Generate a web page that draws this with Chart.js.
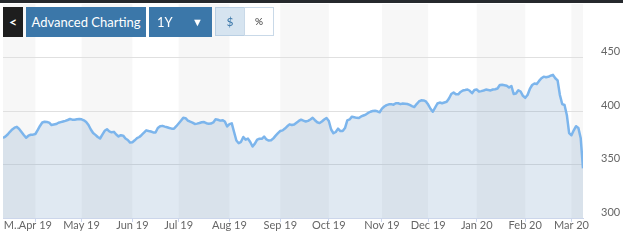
<!DOCTYPE html>
<html>
<head>
<meta charset="utf-8">
<script src="https://cdn.jsdelivr.net/npm/chart.js@4/dist/chart.umd.min.js"></script>
<style>
  html, body { margin: 0; padding: 0; background: #fff; }
  #wrap { position: relative; width: 631px; height: 246px; overflow: hidden; font-family: Lato, 'Open Sans', sans-serif; }
  #topbar { position: absolute; left: 0; top: 0; width: 623px; height: 3px; background: #26292d; }
  .btn { position: absolute; top: 7px; height: 30px; line-height: 30px; box-sizing: border-box; color: #fff; font-size: 13px; text-align: center; }
  #back { left: 3px; width: 20px; background: #1e1e1e; font-weight: bold; font-size: 14px; }
  #adv { left: 26px; width: 120px; background: #3b77a9; }
  #range { left: 149px; width: 63px; background: #3b77a9; text-align: left; }
  #range .lbl { position: absolute; left: 8px; }
  #range .arr { position: absolute; left: 43px; font-size: 11px; }
  #usd { left: 215px; width: 30px; height: 29px; line-height: 27px; background: #d6e4f0; border: 1px solid #b9cfe3; color: #3b77a9; font-size: 12px; }
  #pct { left: 244px; width: 30px; height: 29px; line-height: 27px; background: #fff; border: 1px solid #c9d9e8; color: #333; font-size: 10px; }
</style>
</head>
<body>
<div id="wrap">
  <canvas id="chart" width="631" height="246"></canvas>
  <div id="topbar"></div>
  <div class="btn" id="back">&lt;</div>
  <div class="btn" id="adv">Advanced Charting</div>
  <div class="btn" id="range"><span class="lbl">1Y</span><span class="arr">&#9660;</span></div>
  <div class="btn" id="usd">$</div>
  <div class="btn" id="pct">%</div>
</div>
<script>
// daily closes, Mar 2019 -> Mar 2020
const closes = [
  374.8, 376.0, 378.0, 380.6, 382.8, 384.4, 385.2, 383.2, 380.4, 377.6,
  375.0, 376.9, 377.8, 377.9, 378.5, 382.2, 386.0, 389.2, 389.9, 389.7,
  389.1, 386.9, 387.4, 387.8, 389.0, 389.6, 390.2, 390.8, 391.6, 392.5,
  391.9, 391.8, 392.3, 392.5, 392.2, 391.3, 389.7, 386.9, 382.7, 379.4,
  377.7, 375.7, 374.3, 378.0, 381.5, 382.9, 381.0, 380.1, 380.5, 378.0,
  376.2, 377.4, 377.0, 374.3, 372.9, 370.5, 370.8, 372.6, 374.6, 375.7,
  377.6, 379.7, 381.9, 381.3, 380.8, 380.0, 379.9, 384.1, 385.8, 386.1,
  385.4, 384.8, 384.1, 383.5, 383.5, 385.8, 388.3, 390.9, 393.6, 393.3,
  391.1, 390.0, 389.1, 387.9, 388.2, 388.8, 389.5, 389.7, 388.6, 388.1,
  388.3, 389.3, 392.2, 391.8, 391.0, 391.4, 390.2, 385.6, 387.7, 388.5,
  380.4, 372.4, 369.9, 371.2, 375.7, 373.2, 374.2, 371.0, 366.8, 369.5,
  373.3, 374.1, 374.0, 376.1, 373.4, 372.4, 372.6, 374.4, 377.0, 379.3,
  381.3, 381.9, 383.6, 385.7, 387.5, 386.9, 387.4, 389.1, 390.7, 391.9,
  391.0, 390.2, 390.8, 392.1, 393.6, 391.4, 389.5, 388.7, 390.2, 392.1,
  393.5, 390.7, 382.7, 379.2, 380.4, 383.5, 381.3, 381.3, 384.1, 391.2,
  392.1, 394.7, 394.2, 393.6, 393.4, 394.9, 395.8, 396.7, 398.2, 399.3,
  400.0, 400.2, 399.7, 398.8, 402.2, 404.2, 405.5, 406.2, 406.4, 405.9,
  407.2, 407.2, 406.4, 407.0, 406.8, 406.5, 405.7, 404.6, 403.7, 406.5,
  408.9, 410.0, 409.9, 408.9, 406.0, 402.1, 399.3, 403.1, 407.0, 407.9,
  407.3, 408.0, 408.6, 411.7, 415.9, 417.3, 415.6, 415.6, 417.8, 419.2,
  419.6, 420.1, 418.9, 416.6, 419.6, 420.1, 418.1, 418.6, 419.2, 420.0,
  419.6, 419.2, 420.1, 420.3, 421.0, 424.3, 424.5, 424.1, 423.6, 422.0,
  423.4, 415.9, 416.4, 419.4, 418.2, 414.2, 412.3, 415.0, 420.6, 424.3,
  425.7, 425.2, 428.1, 430.6, 432.1, 431.6, 432.0, 433.0, 433.8, 430.6,
  428.6, 415.0, 406.5, 405.6, 396.3, 379.4, 377.3, 382.0, 385.8, 384.1,
  374.8, 346.4
];

// index of the first trading day of each month, and its label
const monthTicks = [3.7, 14, 34, 56, 76, 98, 120, 141, 164, 184, 205, 226, 246];
const monthLabels = ['M..', 'Apr 19', 'May 19', 'Jun 19', 'Jul 19', 'Aug 19', 'Sep 19',
  'Oct 19', 'Nov 19', 'Dec 19', 'Jan 20', 'Feb 20', 'Mar 20'];
const yTicks = [300, 350, 400, 450];

// alternating month bands behind the plot
const monthBands = {
  id: 'monthBands',
  beforeDraw(chart) {
    const { ctx, chartArea: a, scales: { x } } = chart;
    const edges = [x.min, ...monthTicks.slice(1), x.max];
    ctx.save();
    ctx.fillStyle = '#f7f7f7';
    for (let i = 0; i < edges.length - 1; i += 2) {
      const x0 = x.getPixelForValue(edges[i]);
      const x1 = x.getPixelForValue(edges[i + 1]);
      ctx.fillRect(x0, a.top, x1 - x0, a.bottom - a.top);
    }
    ctx.restore();
  }
};

new Chart(document.getElementById('chart'), {
  type: 'line',
  data: {
    labels: closes.map((_, i) => i),
    datasets: [{
      data: closes,
      borderColor: '#7cb5ec',
      borderWidth: 2.5,
      borderJoinStyle: 'round',
      backgroundColor: 'rgba(100,145,190,0.2)',
      fill: 'start',
      pointRadius: 0,
      tension: 0
    }]
  },
  options: {
    responsive: false,
    animation: false,
    layout: { padding: { left: 3, top: 4, right: 0, bottom: 0 } },
    plugins: { legend: { display: false }, tooltip: { enabled: false } },
    scales: {
      x: {
        type: 'linear',
        min: 0,
        max: closes.length - 1,
        afterBuildTicks: (s) => { s.ticks = monthTicks.map(v => ({ value: v })) },
        afterFit: (s) => { s.height = 28; s.paddingLeft = 0; s.paddingRight = 0 },
        border: { color: '#ccd6eb' },
        grid: {
          drawOnChartArea: false,
          drawTicks: true,
          tickLength: 4,
          tickColor: (c) => c.index === 0 ? 'rgba(0,0,0,0)' : '#ccd6eb'
        },
        ticks: {
          autoSkip: false,
          maxRotation: 0,
          padding: -3,
          color: '#666',
          font: { family: 'Lato', size: 11 },
          callback: (v, i) => monthLabels[i]
        }
      },
      y: {
        position: 'right',
        min: 300,
        max: 500,
        afterBuildTicks: (s) => { s.ticks = yTicks.map(v => ({ value: v })) },
        afterFit: (s) => { s.width = 48; s.paddingTop = 0; s.paddingBottom = 0 },
        border: { display: false },
        grid: { color: '#e0e0e0', drawTicks: false },
        ticks: {
          padding: 18,
          labelOffset: -6,
          color: '#666',
          font: { family: 'Lato', size: 11 }
        }
      }
    }
  },
  plugins: [monthBands]
});
</script>
</body>
</html>
